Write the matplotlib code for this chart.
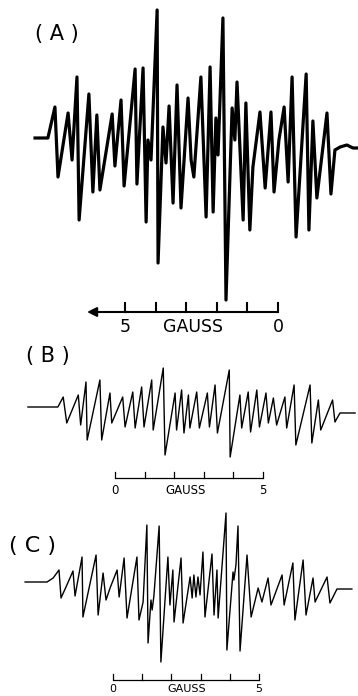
import matplotlib
matplotlib.use("Agg")
import matplotlib.pyplot as plt

# Spectrum (A): turning points of the trace, field in gauss, signal in arbitrary units
a_field = [7.94, 7.52, 7.29, 7.19, 6.86, 6.73, 6.57, 6.50, 6.18, 6.05, 5.92, 5.82,
           5.42, 5.33, 5.13, 5.03, 4.67, 4.61, 4.41, 4.31, 4.25, 4.15, 3.95, 3.92,
           3.76, 3.66, 3.56, 3.43, 3.30, 3.17, 2.94, 2.84, 2.75, 2.52, 2.35, 2.22,
           2.12, 2.03, 1.96, 1.80, 1.70, 1.50, 1.41, 1.34, 1.14, 1.05, 0.92, 0.82,
           0.59, 0.42, 0.23, 0.13, -0.03, -0.20, -0.33, -0.46, -0.59, -0.92, -1.01,
           -1.14, -1.27, -1.60, -1.73, -1.86, -2.03, -2.25, -2.45, -2.61]
a_signal = [2, 2, 33, -37, 27, -20, 63, -80, 46, -52, 25, -50,
            26, -26, 40, -46, 71, -44, 72, -82, 0, -20, 130, -123,
            13, -23, 34, -63, 55, -68, 42, -20, -37, 63, -77, 73,
            -72, 22, -15, 122, -160, 32, 0, 58, -80, 37, -90, -27,
            28, -48, 28, -52, 0, 33, -42, 63, -97, 66, -90,
            19, -58, 27, -54, -10, -7, -5, -8, -8]

# Spectrum (B)
b_field = [-2.94, -1.93, -1.75, -1.63, -1.24, -1.16, -0.98, -0.94, -0.51, -0.45,
           -0.17, -0.11, 0.26, 0.34, 0.60, 0.68, 0.90, 0.98, 1.24, 1.29, 1.63, 1.69,
           2.03, 2.08, 2.25, 2.33, 2.48, 2.53, 2.76, 2.85, 3.12, 3.19, 3.38, 3.46,
           3.86, 3.89, 4.22, 4.28, 4.50, 4.58, 4.79, 4.88, 5.10, 5.18, 5.35, 5.46,
           5.74, 5.80, 6.05, 6.11, 6.59, 6.65, 6.87, 6.95, 7.35, 7.43, 7.60, 8.11]
b_signal = [3, 3, 13, -13, 15, -15, 28, -30, 30, -30,
            17, -13, 13, -17, 18, -18, 23, -17, 30, -20, 42, -45,
            17, -20, 20, -23, 15, -18, 18, -18, 17, -17, 25, -23,
            40, -47, 15, -18, 18, -22, 20, -17, 17, -13, 12, -15,
            13, -18, 25, -35, 25, -33, 10, -20, 10, -12, -3, -3]

# Spectrum (C)
c_field = [-3.01, -2.26, -2.05, -1.85, -1.78, -1.58, -1.37, -1.30, -1.06, -1.03,
           -0.58, -0.51, -0.34, -0.24, -0.10, 0.14, 0.21, 0.38, 0.48, 0.82, 0.89,
           1.03, 1.16, 1.20, 1.30, 1.34, 1.40, 1.58, 1.64, 1.88, 1.95, 2.05, 2.09,
           2.33, 2.40, 2.64, 2.71, 2.77, 2.84, 2.91, 2.98, 3.08, 3.15, 3.39, 3.46,
           3.56, 3.60, 3.87, 3.90, 4.11, 4.14, 4.21, 4.28, 4.35, 4.59, 4.73, 4.97,
           5.10, 5.31, 5.41, 5.79, 5.86, 6.16, 6.23, 6.51, 6.61, 6.85, 6.92, 7.33,
           7.43, 7.67, 8.18]
c_signal = [3, 3, 7, 15, -13, 0, 14, -11, 28, -32,
            30, -30, 12, -15, -3, 15, -12, 27, -33, 28, -35,
            -17, 60, -58, -15, -25, -11, 59, -77, 28, -20, 15, -37,
            27, -38, 8, -13, 10, -12, 8, -10, 33, -32, 31, -30,
            15, -33, 72, -65, 13, 5, 20, 59, -66, 30, -32, -3,
            -17, 7, -20, 10, -20, 22, -35, 25, -30, 7, -17, 8,
            -18, -4, -4]

# Field scale bars (gauss)
scale_ticks = [0, 1, 2, 3, 4, 5]
a_scale_labels = ["5", "GAUSS", "0"]
a_scale_label_pos = [5, 2.78, 0]
b_scale_labels = ["0", "GAUSS", "5"]
b_scale_label_pos = [0, 2.40, 5]
c_scale_labels = ["0", "GAUSS", "5"]
c_scale_label_pos = [0, 2.53, 5]

fig = plt.figure(figsize=(3.58, 6.96), dpi=100)


def panel(rect, xlim, ylim):
    ax = fig.add_axes(rect)
    ax.set_xlim(*xlim)
    ax.set_ylim(*ylim)
    ax.axis("off")
    return ax


def scale_bar(ax, y, tick_h, labels, label_pos, label_y, fs, lw):
    ax.plot([scale_ticks[0], scale_ticks[-1]], [y, y], color="black", lw=lw,
            solid_capstyle="butt")
    for t in scale_ticks:
        ax.plot([t, t], [y, y + tick_h], color="black", lw=lw)
    for lab, x in zip(labels, label_pos):
        ax.text(x, label_y, lab, ha="center", va="center", fontsize=fs,
                clip_on=False)


# (A)
ax_a = panel([0, 0.5115, 1, 0.4885], (9.085, -2.614), (-200, 140))
ax_a.plot(a_field, a_signal, color="black", lw=2.3, solid_joinstyle="round")
scale_bar(ax_a, -172, 9, a_scale_labels, a_scale_label_pos, -187, 12.5, 1.5)
ax_a.annotate("", xy=(6.24, -172), xytext=(4.9, -172),
              arrowprops=dict(arrowstyle="-|>", lw=1.5, color="black",
                              mutation_scale=14, shrinkA=0, shrinkB=0))
fig.text(0.159, 0.951, "( A )", ha="center", va="center", fontsize=15)

# (B)
ax_b = panel([0, 0.2816, 1, 0.2299], (-3.885, 8.209), (-90, 70))
ax_b.plot(b_field, b_signal, color="black", lw=1.0, solid_joinstyle="round")
scale_bar(ax_b, -68, 6, b_scale_labels, b_scale_label_pos, -80, 8.5, 0.9)
fig.text(0.134, 0.4885, "( B )", ha="center", va="center", fontsize=15)

# (C)
ax_c = panel([0, 0, 1, 0.2816], (-3.870, 8.390), (-111, 85))
ax_c.plot(c_field, c_signal, color="black", lw=1.0, solid_joinstyle="round")
scale_bar(ax_c, -95, 6, c_scale_labels, c_scale_label_pos, -103.5, 8, 0.9)
fig.text(0.092, 0.2155, "( C )", ha="center", va="center", fontsize=16)

fig.savefig("out.png", dpi=100)
